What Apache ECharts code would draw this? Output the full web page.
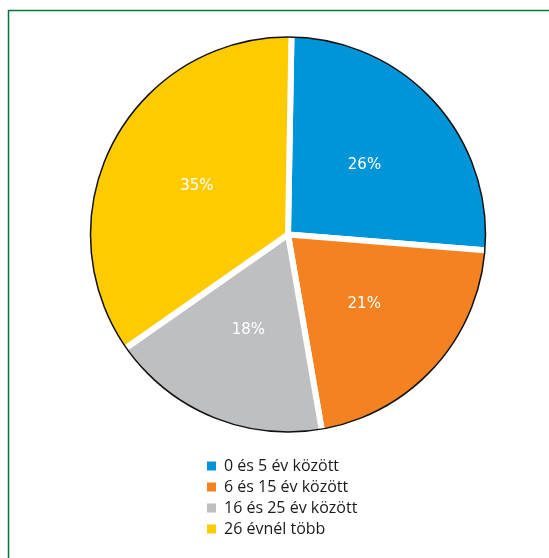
<!DOCTYPE html>
<html>
<head>
<meta charset="utf-8">
<script src="https://cdn.jsdelivr.net/npm/echarts@6/dist/echarts.min.js"></script>
<style>
  html, body { margin: 0; padding: 0; background: #ffffff; }
  #chart { width: 549px; height: 558px; }
</style>
</head>
<body>
<div id="chart"></div>
<script>
// Age groups and their shares (%)
const categories = ['0 és 5 év között', '6 és 15 év között', '16 és 25 év között', '26 évnél több'];
const shares = [26, 21, 18, 35];
const colors = ['#0095d8', '#f48221', '#bebfc1', '#fecb00'];

const cx = 288, cy = 234.5, rOuter = 197.5, gap = 6;

const chart = echarts.init(document.getElementById('chart'), null, { renderer: 'canvas' });

chart.setOption({
  animation: false,
  backgroundColor: '#ffffff',
  color: colors,
  graphic: [{
    type: 'rect',
    shape: { x: 8.5, y: 10.5, width: 700, height: 700 },
    style: { fill: 'none', stroke: '#00773a', lineWidth: 1.5 },
    silent: true
  }],
  legend: {
    data: categories,
    orient: 'vertical',
    left: 205,
    top: 458,
    padding: 0,
    itemWidth: 11,
    itemHeight: 11,
    itemGap: 5,
    icon: 'rect',
    textStyle: { fontFamily: 'Open Sans', fontSize: 16, color: '#1a1a1a', lineHeight: 16, padding: [0, 0, 0, 2] }
  },
  series: [
    {
      type: 'pie',
      center: [cx, cy],
      radius: [0, rOuter + gap / 2],
      startAngle: 89,
      clockwise: true,
      silent: true,
      itemStyle: { borderColor: '#ffffff', borderWidth: gap },
      label: {
        show: true,
        position: 'inside',
        formatter: '{c}%',
        color: '#ffffff',
        fontFamily: 'DejaVu Sans',
        fontSize: 15
      },
      labelLine: { show: false },
      data: categories.map((name, i) => ({ name, value: shares[i] }))
    },
    {
      // thin dark rim round the disc
      type: 'pie',
      center: [cx, cy],
      radius: [0, rOuter],
      silent: true,
      label: { show: false },
      labelLine: { show: false },
      itemStyle: { color: 'rgba(0,0,0,0)', borderColor: '#111111', borderWidth: 1.5 },
      data: [{ name: 'rim', value: 1 }]
    }
  ]
});
</script>
</body>
</html>
